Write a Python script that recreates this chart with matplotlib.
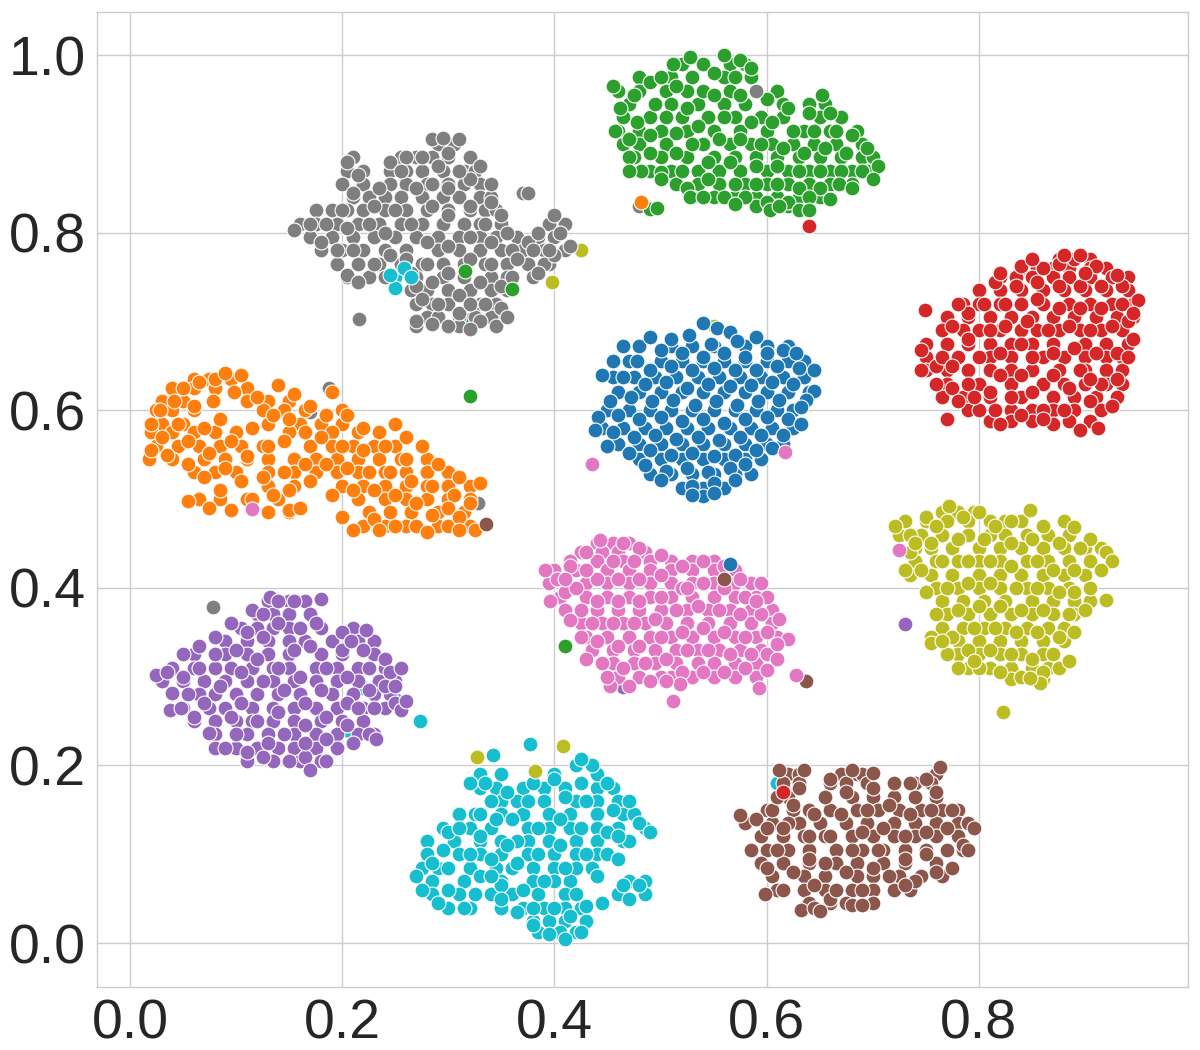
import matplotlib
matplotlib.use("Agg")
import matplotlib.pyplot as plt

blue = [(.54,.698),(.553,.693),(.565,.688),(.49,.683),(.51,.68),(.527,.685),(.548,.675),(.572,.678),(.59,.682),(.465,.672),(.5,.668),(.52,.665),(.54,.66),(.56,.665),(.58,.66),(.6,.665),(.615,.668),(.628,.664),(.455,.655),(.478,.655),(.49,.645),(.51,.65),(.53,.645),(.55,.648),(.57,.645),(.59,.645),(.61,.65),(.63,.648),(.645,.645),(.445,.64),(.465,.638),(.485,.63),(.505,.632),(.525,.625),(.545,.63),(.565,.627),(.585,.628),(.605,.632),(.625,.63),(.645,.622),(.637,.612),(.452,.61),(.472,.615),(.492,.61),(.512,.612),(.532,.606),(.552,.61),(.572,.606),(.592,.61),(.612,.612),(.632,.604),(.441,.592),(.46,.595),(.48,.59),(.5,.592),(.52,.588),(.54,.59),(.56,.586),(.58,.59),(.6,.592),(.62,.59),(.632,.585),(.438,.578),(.455,.575),(.475,.57),(.495,.572),(.515,.568),(.535,.57),(.555,.566),(.575,.57),(.595,.572),(.615,.572),(.45,.56),(.47,.552),(.49,.555),(.51,.55),(.53,.552),(.55,.548),(.57,.55),(.59,.555),(.605,.558),(.485,.538),(.505,.532),(.525,.535),(.545,.53),(.565,.535),(.58,.54),(.5,.522),(.53,.515),(.55,.518),(.57,.522),(.54,.503),(.53,.505),(.55,.507)]
blue_rows = {.672:[.48,.51,.53,.55,.58,.6,.62],.655:[.47,.5,.52,.54,.56,.58,.6,.62,.635],.637:[.455,.475,.495,.515,.535,.555,.575,.595,.615,.635],.62:[.46,.48,.5,.52,.54,.56,.58,.6,.62,.64],.6:[.45,.47,.49,.51,.53,.55,.57,.59,.61,.625],.58:[.445,.465,.485,.505,.525,.545,.565,.585,.605,.625],.562:[.46,.48,.5,.52,.54,.56,.58,.6,.615],.545:[.48,.5,.52,.54,.56,.58,.595],.528:[.49,.51,.53,.55,.57,.585],.512:[.52,.54,.56]}

orange = [(.018,.545),(.02,.555),(.02,.585),(.028,.6),(.042,.61),(.05,.625),(.065,.632),(.08,.635),(.09,.642),(.105,.64),(.098,.62),(.12,.615),(.14,.628),(.155,.618),(.17,.605),(.19,.62),(.185,.595),(.205,.595),(.22,.58),(.25,.585),(.26,.57),(.03,.57),(.045,.585),(.06,.605),(.078,.61),(.035,.55),(.055,.565),(.07,.58),(.085,.59),(.055,.54),(.075,.552),(.095,.565),(.115,.58),(.135,.595),(.15,.59),(.165,.575),(.09,.535),(.11,.548),(.13,.56),(.145,.565),(.18,.57),(.2,.56),(.22,.555),(.24,.56),(.26,.545),(.275,.56),(.29,.54),(.31,.525),(.33,.518),(.07,.525),(.085,.51),(.105,.52),(.125,.525),(.145,.53),(.165,.54),(.185,.54),(.205,.535),(.225,.53),(.245,.53),(.265,.52),(.285,.515),(.305,.505),(.3,.49),(.32,.495),(.055,.498),(.075,.49),(.095,.488),(.115,.5),(.135,.505),(.15,.51),(.17,.52),(.19,.505),(.21,.51),(.15,.488),(.16,.49),(.2,.48),(.23,.51),(.25,.505),(.27,.495),(.285,.482),(.31,.48),(.335,.472),(.21,.465),(.23,.478),(.25,.47),(.235,.465),(.27,.47),(.28,.463),(.325,.465),(.31,.465)]
orange_rows = {.635:[.06,.075,.095],.625:[.04,.06,.08,.11],.61:[.03,.05,.11,.13,.15],.6:[.025,.04,.06,.125,.145,.165,.2],.585:[.03,.05,.13,.16,.18,.2],.575:[.02,.04,.06,.08,.1,.15,.19,.215,.235],.56:[.025,.045,.065,.085,.105,.125,.17,.19,.21,.23,.25],.545:[.04,.07,.09,.11,.13,.155,.175,.195,.215,.235,.255,.28],.53:[.06,.08,.1,.13,.155,.175,.195,.215,.24,.26,.28,.3],.515:[.13,.155,.2,.22,.24,.26,.28,.3,.32],.5:[.065,.085,.11,.14,.215,.24,.26,.28,.3,.32],.485:[.13,.15,.225,.245,.265,.29,.315],.47:[.22,.24,.26,.29,.3,.32]}

green = [(.455,.965),(.475,.955),(.49,.97),(.5,.975),(.512,.99),(.528,.998),(.56,1.0),(.575,.995),(.585,.985),(.57,.975),(.55,.98),(.54,.96),(.515,.965),(.495,.945),(.462,.94),(.478,.925),(.505,.93),(.525,.94),(.55,.955),(.575,.955),(.6,.95),(.62,.94),(.652,.955),(.64,.935),(.66,.935),(.457,.915),(.47,.905),(.49,.91),(.515,.912),(.535,.92),(.56,.93),(.585,.925),(.605,.925),(.625,.915),(.645,.915),(.665,.915),(.68,.91),(.47,.885),(.49,.89),(.515,.89),(.53,.9),(.555,.905),(.575,.905),(.595,.9),(.615,.895),(.635,.89),(.655,.895),(.675,.89),(.695,.895),(.705,.875),(.69,.87),(.482,.87),(.5,.868),(.52,.87),(.545,.88),(.565,.88),(.59,.875),(.61,.875),(.63,.87),(.65,.87),(.67,.87),(.7,.86),(.525,.85),(.545,.86),(.57,.855),(.59,.855),(.61,.855),(.63,.85),(.65,.85),(.668,.855),(.68,.85),(.528,.84),(.54,.84),(.56,.84),(.58,.84),(.6,.835),(.62,.835),(.64,.84),(.66,.838),(.603,.826),(.57,.832),(.63,.826),(.64,.826),(.49,.827),(.497,.828),(.5,.86),(.612,.83),(.47,.87)]
green_rows = {.99:[.52,.54,.565,.58],.975:[.48,.51,.53,.56,.585],.96:[.46,.48,.505,.525,.565,.59,.61],.945:[.47,.51,.535,.56,.58,.615,.64,.655],.93:[.465,.49,.52,.545,.57,.595,.615,.65,.67],.915:[.46,.48,.5,.525,.55,.575,.6,.635,.66,.685],.9:[.465,.48,.505,.54,.565,.585,.605,.625,.645,.665,.69],.885:[.475,.5,.525,.55,.57,.59,.61,.63,.65,.67,.69,.7],.87:[.49,.51,.535,.555,.575,.6,.62,.64,.66,.68,.695],.855:[.515,.535,.555,.58,.6,.62,.64,.66,.68],.84:[.53,.55,.57,.59,.61,.63,.65],.83:[.59,.61,.62]}

red = [(.749,.713),(.745,.668),(.745,.645),(.76,.65),(.765,.66),(.775,.65),(.76,.63),(.775,.625),(.79,.63),(.78,.61),(.8,.6),(.795,.615),(.81,.62),(.775,.695),(.79,.71),(.78,.72),(.79,.68),(.81,.69),(.8,.66),(.82,.665),(.82,.64),(.84,.64),(.815,.6),(.83,.615),(.85,.62),(.84,.595),(.86,.6),(.88,.6),(.87,.585),(.86,.59),(.895,.578),(.912,.58),(.925,.605),(.905,.61),(.885,.625),(.87,.64),(.895,.645),(.915,.63),(.93,.635),(.945,.68),(.93,.665),(.91,.665),(.89,.67),(.87,.665),(.85,.66),(.84,.675),(.825,.695),(.805,.72),(.825,.72),(.845,.7),(.865,.69),(.885,.695),(.905,.69),(.925,.695),(.94,.7),(.95,.724),(.935,.72),(.915,.715),(.895,.715),(.875,.715),(.855,.725),(.835,.74),(.815,.745),(.82,.755),(.84,.762),(.855,.745),(.875,.74),(.895,.74),(.915,.74),(.935,.74),(.93,.752),(.91,.762),(.89,.77),(.875,.765),(.86,.76),(.85,.77),(.9,.755),(.895,.775),(.88,.775),(.945,.71),(.94,.66),(.82,.585),(.905,.635),(.77,.59)]
red_rows = {.77:[.875,.89,.905],.76:[.84,.855,.87,.885,.905,.92],.75:[.82,.835,.85,.87,.885,.905,.925,.94],.735:[.8,.82,.84,.86,.88,.9,.92,.94],.72:[.785,.8,.82,.84,.86,.885,.905,.925,.945],.705:[.77,.79,.81,.83,.85,.87,.89,.91,.93,.945],.69:[.765,.785,.8,.82,.84,.855,.875,.895,.915,.935],.675:[.75,.77,.79,.81,.83,.85,.87,.9,.92,.94],.66:[.75,.78,.81,.83,.86,.88,.9,.92,.935],.645:[.75,.77,.79,.81,.83,.85,.875,.9,.92,.935],.63:[.77,.8,.83,.86,.88,.9,.92,.935],.615:[.765,.785,.81,.84,.87,.89,.91,.93],.6:[.79,.83,.85,.87,.89,.915],.588:[.81,.83,.85,.885,.905]}

purple = [(.025,.302),(.035,.305),(.04,.282),(.05,.3),(.038,.262),(.048,.265),(.055,.28),(.06,.255),(.07,.27),(.065,.31),(.05,.325),(.065,.335),(.08,.325),(.08,.345),(.085,.29),(.075,.237),(.095,.255),(.09,.22),(.1,.235),(.11,.215),(.105,.27),(.105,.305),(.1,.33),(.095,.36),(.11,.35),(.115,.375),(.132,.39),(.14,.385),(.125,.37),(.14,.36),(.125,.345),(.12,.32),(.125,.295),(.12,.25),(.13,.225),(.125,.21),(.15,.205),(.165,.21),(.17,.195),(.185,.205),(.145,.235),(.14,.26),(.145,.285),(.14,.31),(.155,.33),(.16,.355),(.175,.36),(.155,.385),(.18,.388),(.17,.335),(.16,.3),(.165,.27),(.165,.245),(.165,.225),(.185,.23),(.185,.255),(.18,.285),(.185,.31),(.2,.33),(.205,.3),(.205,.27),(.205,.245),(.21,.225),(.215,.265),(.225,.285),(.225,.31),(.2,.35),(.22,.33),(.24,.32),(.245,.305),(.24,.29),(.23,.265),(.25,.27),(.255,.262),(.225,.235),(.222,.352),(.208,.34),(.26,.273),(.25,.29),(.255,.31),(.232,.23)]
purple_rows = {.385:[.13,.15,.165],.37:[.12,.135,.15,.17],.355:[.105,.12,.135,.15,.18,.21],.34:[.09,.11,.13,.15,.165,.19,.215,.23],.325:[.06,.09,.11,.13,.15,.18,.2,.23],.31:[.04,.06,.08,.095,.115,.135,.15,.175,.195,.215,.24],.295:[.03,.05,.07,.09,.11,.135,.155,.175,.195,.215,.235,.25],.28:[.04,.065,.08,.1,.12,.14,.16,.19,.21,.23,.245],.265:[.05,.075,.09,.115,.135,.155,.175,.195,.22,.24],.25:[.06,.08,.1,.115,.135,.155,.18,.2,.22],.235:[.08,.11,.13,.155,.175,.195,.215,.23],.22:[.08,.1,.12,.14,.155,.175,.195],.205:[.11,.135,.16,.18]}

pink = [(.391,.42),(.402,.41),(.415,.425),(.43,.44),(.443,.454),(.465,.45),(.48,.445),(.475,.43),(.5,.437),(.455,.43),(.41,.395),(.396,.385),(.42,.4),(.44,.41),(.46,.41),(.48,.41),(.5,.415),(.52,.425),(.54,.43),(.56,.425),(.575,.41),(.595,.405),(.6,.39),(.58,.39),(.56,.4),(.54,.405),(.52,.4),(.5,.39),(.48,.385),(.46,.385),(.44,.385),(.425,.375),(.415,.364),(.435,.36),(.455,.36),(.475,.36),(.495,.365),(.515,.375),(.535,.38),(.555,.375),(.575,.37),(.595,.37),(.612,.365),(.62,.342),(.6,.35),(.58,.345),(.56,.35),(.54,.355),(.52,.35),(.5,.345),(.48,.335),(.46,.335),(.44,.34),(.425,.345),(.43,.32),(.445,.315),(.465,.31),(.485,.315),(.505,.32),(.525,.33),(.545,.33),(.565,.325),(.585,.325),(.6,.325),(.61,.32),(.6,.307),(.58,.31),(.56,.305),(.54,.305),(.52,.305),(.5,.3),(.518,.292),(.49,.295),(.47,.29),(.452,.29),(.45,.3),(.505,.295),(.61,.337),(.525,.4),(.59,.385),(.43,.42),(.41,.41)]
pink_rows = {.45:[.44,.455,.47],.44:[.425,.445,.46,.485],.43:[.415,.44,.465,.49,.51,.53,.55],.42:[.4,.42,.45,.47,.49,.51,.53,.55,.57],.405:[.395,.43,.45,.47,.49,.51,.53,.55,.57,.585],.39:[.405,.43,.45,.47,.49,.51,.53,.55,.57,.59],.375:[.41,.44,.46,.48,.5,.525,.545,.565,.585,.605],.36:[.425,.445,.465,.485,.505,.525,.545,.565,.585,.605],.345:[.43,.45,.47,.49,.51,.53,.55,.57,.59,.61],.33:[.435,.455,.475,.495,.515,.535,.555,.575,.595],.315:[.455,.475,.495,.515,.535,.55,.57,.59],.3:[.46,.48,.51,.53,.55,.57,.59]}

olive = [(.721,.47),(.735,.46),(.75,.48),(.76,.47),(.772,.492),(.785,.48),(.8,.485),(.815,.47),(.83,.475),(.848,.488),(.86,.47),(.88,.475),(.89,.468),(.905,.455),(.895,.445),(.92,.44),(.925,.43),(.915,.42),(.905,.4),(.92,.386),(.89,.395),(.87,.42),(.875,.45),(.85,.455),(.83,.45),(.805,.455),(.78,.455),(.755,.45),(.735,.44),(.73,.42),(.745,.42),(.765,.43),(.79,.43),(.81,.43),(.83,.425),(.855,.43),(.89,.42),(.75,.395),(.77,.4),(.79,.405),(.81,.405),(.835,.4),(.855,.4),(.875,.395),(.9,.375),(.885,.37),(.86,.375),(.84,.375),(.82,.38),(.8,.38),(.78,.375),(.76,.37),(.755,.345),(.775,.345),(.795,.355),(.815,.355),(.835,.35),(.855,.35),(.875,.345),(.89,.35),(.87,.325),(.85,.32),(.83,.325),(.81,.33),(.79,.33),(.77,.325),(.78,.31),(.8,.31),(.82,.305),(.84,.3),(.86,.305),(.858,.293),(.848,.298),(.875,.31),(.885,.318),(.755,.338),(.765,.34),(.795,.318),(.74,.45)]
olive_rows = {.485:[.765,.78,.795],.475:[.73,.75,.77,.79,.81,.825,.84],.46:[.725,.745,.765,.79,.81,.825,.845,.865,.885],.445:[.74,.755,.775,.8,.82,.84,.86,.88,.9,.915],.43:[.74,.76,.78,.8,.82,.845,.865,.885,.905],.415:[.735,.755,.775,.8,.82,.84,.86,.88,.9],.4:[.76,.78,.8,.82,.845,.865,.885,.905],.385:[.765,.785,.805,.825,.85,.87,.89,.905],.37:[.77,.79,.81,.83,.85,.87,.89],.355:[.765,.785,.805,.825,.845,.865,.88],.34:[.76,.78,.8,.82,.84,.86,.88],.325:[.78,.8,.82,.84,.86],.31:[.79,.81,.83,.85,.865],.297:[.83,.85,.86]}

cyan = [(.27,.075),(.275,.06),(.285,.09),(.295,.105),(.3,.085),(.3,.06),(.315,.04),(.325,.055),(.33,.075),(.32,.1),(.3,.125),(.31,.13),(.33,.12),(.34,.095),(.35,.065),(.35,.05),(.345,.14),(.34,.16),(.32,.18),(.335,.18),(.355,.17),(.36,.14),(.365,.115),(.365,.09),(.37,.06),(.38,.04),(.38,.02),(.395,.01),(.41,.005),(.425,.012),(.415,.03),(.4,.04),(.39,.07),(.385,.1),(.385,.13),(.375,.16),(.38,.18),(.4,.185),(.41,.165),(.405,.14),(.405,.11),(.41,.085),(.42,.055),(.445,.045),(.47,.05),(.465,.065),(.485,.055),(.48,.065),(.44,.075),(.43,.1),(.425,.13),(.43,.16),(.425,.18),(.44,.19),(.435,.2),(.45,.18),(.455,.15),(.45,.125),(.46,.095),(.47,.115),(.475,.145),(.47,.16),(.48,.135),(.49,.125),(.46,.12),(.34,.075),(.42,.2),(.425,.207),(.43,.042),(.355,.11),(.29,.045),(.33,.145),(.365,.035)]
cyan_rows = {.19:[.33,.35,.4],.175:[.33,.345,.37,.39,.41,.44,.455],.16:[.35,.365,.39,.42,.44,.46],.145:[.31,.325,.35,.37,.395,.415,.44,.465],.13:[.295,.32,.34,.375,.395,.415,.44,.46,.485],.115:[.28,.305,.33,.35,.375,.395,.42,.44,.465],.1:[.28,.31,.33,.35,.375,.4,.42,.44,.45],.085:[.275,.29,.32,.345,.36,.38,.4,.42,.435],.07:[.285,.315,.35,.38,.4,.415,.47,.485],.055:[.285,.31,.34,.36,.385,.41,.46],.04:[.3,.32,.35,.37,.39,.41,.425],.025:[.38,.395,.41,.43],.012:[.385,.405,.42]}

brown = [(.575,.144),(.59,.14),(.595,.12),(.585,.105),(.6,.13),(.605,.15),(.61,.165),(.615,.18),(.612,.195),(.635,.195),(.63,.175),(.625,.155),(.62,.135),(.61,.105),(.6,.085),(.598,.055),(.615,.06),(.625,.08),(.64,.095),(.64,.12),(.645,.145),(.655,.165),(.66,.185),(.68,.195),(.675,.17),(.67,.145),(.66,.12),(.655,.09),(.645,.065),(.632,.037),(.645,.04),(.66,.05),(.68,.043),(.69,.06),(.675,.08),(.68,.105),(.69,.125),(.695,.15),(.7,.175),(.72,.18),(.715,.155),(.71,.13),(.705,.105),(.7,.085),(.715,.075),(.73,.095),(.73,.12),(.735,.145),(.74,.165),(.75,.185),(.763,.198),(.76,.17),(.755,.15),(.75,.125),(.75,.1),(.74,.07),(.76,.08),(.775,.085),(.77,.105),(.77,.13),(.775,.15),(.79,.135),(.795,.13),(.785,.11),(.79,.105),(.69,.043),(.65,.036),(.735,.18),(.7,.192),(.615,.13),(.665,.06),(.73,.065)]
brown_rows = {.19:[.62,.63,.67,.685,.69,.76],.18:[.63,.66,.675,.695,.72,.74,.755],.165:[.62,.655,.68,.7,.72,.74,.76],.15:[.6,.625,.64,.66,.685,.705,.725,.745,.765,.78],.135:[.58,.605,.63,.65,.675,.695,.72,.74,.76,.78,.79],.12:[.595,.615,.635,.655,.68,.7,.72,.74,.76,.78],.105:[.6,.62,.64,.665,.69,.71,.73,.75,.77,.785],.09:[.595,.615,.64,.665,.685,.71,.73,.76],.075:[.605,.635,.655,.685,.7,.725,.745,.765],.06:[.61,.635,.655,.68,.7,.72,.735],.045:[.64,.66,.675,.7]}

gray = [(.155,.803),(.17,.81),(.18,.79),(.195,.78),(.185,.81),(.2,.825),(.205,.805),(.225,.81),(.24,.8),(.21,.78),(.205,.752),(.215,.745),(.23,.765),(.245,.775),(.26,.77),(.28,.79),(.265,.81),(.25,.825),(.23,.83),(.21,.845),(.205,.88),(.215,.865),(.235,.85),(.245,.88),(.255,.87),(.27,.85),(.26,.885),(.275,.885),(.29,.875),(.285,.855),(.3,.85),(.32,.86),(.33,.875),(.34,.855),(.34,.835),(.32,.83),(.3,.82),(.285,.83),(.285,.905),(.295,.907),(.3,.89),(.31,.905),(.31,.87),(.335,.81),(.34,.79),(.32,.795),(.3,.785),(.28,.765),(.265,.755),(.27,.74),(.285,.745),(.3,.755),(.32,.77),(.34,.765),(.35,.74),(.33,.745),(.31,.73),(.29,.72),(.275,.725),(.27,.7),(.285,.697),(.3,.695),(.31,.71),(.32,.72),(.335,.72),(.35,.715),(.33,.7),(.32,.692),(.345,.695),(.355,.8),(.35,.82),(.36,.78),(.365,.77),(.375,.79),(.38,.78),(.385,.8),(.4,.82),(.405,.8),(.39,.765),(.4,.775),(.415,.785),(.37,.845),(.375,.845),(.385,.755),(.395,.78),(.36,.75),(.355,.705)]
gray_rows = {.9:[.29,.305],.885:[.21,.255,.27,.285,.3,.32],.87:[.205,.22,.245,.26,.275,.295,.315,.325],.855:[.2,.22,.245,.26,.28,.3,.315,.33],.84:[.21,.225,.24,.255,.275,.295,.31,.33,.34],.825:[.175,.19,.205,.22,.24,.26,.28,.3,.32,.335,.345],.81:[.16,.175,.195,.215,.235,.255,.275,.295,.315,.33,.35,.395,.41],.795:[.17,.19,.21,.23,.25,.27,.29,.31,.33,.345,.365,.385,.4],.78:[.18,.2,.22,.24,.26,.29,.31,.33,.35,.37,.39,.41],.765:[.195,.215,.235,.255,.275,.295,.315,.335,.355,.375,.395],.75:[.205,.225,.24,.27,.295,.315,.34,.355,.38],.735:[.265,.28,.3,.32,.34,.355],.72:[.27,.285,.3,.33,.345],.705:[.28,.29,.31,.325,.34],.695:[.27,.31]}

# isolated points that sit mostly hidden under a cluster
hidden_gray = [(.078,.378),(.17,.598),(.188,.625),(.328,.495),(.48,.83)]
hidden_olive = [(.55,.695),(.425,.78)]
hidden_cyan = [(.61,.18),(.25,.275),(.22,.287),(.205,.24)]
hidden_purple = [(.465,.288)]
hidden_orange = [(.35,.71)]
hidden_green = [(.321,.703)]
# isolated points drawn over the clusters
out_blue = [(.565,.427)]
out_orange = [(.482,.834)]
out_green = [(.32,.616),(.316,.757),(.36,.736),(.41,.335)]
out_red = [(.64,.807),(.615,.17)]
out_purple = [(.73,.359)]
out_brown = [(.637,.295),(.336,.472),(.56,.41)]
out_pink = [(.435,.54),(.115,.489),(.617,.553),(.725,.443),(.512,.273),(.593,.287),(.628,.302)]
out_gray = [(.216,.703),(.59,.96)]
out_olive = [(.398,.745),(.823,.26),(.327,.209),(.382,.194),(.408,.222)]
out_cyan = [(.273,.25),(.342,.212),(.377,.224),(.25,.75),(.258,.76),(.265,.75),(.25,.738),(.245,.752)]

colors = {"blue": "#1f77b4", "orange": "#ff7f0e", "green": "#2ca02c", "red": "#d62728",
          "purple": "#9467bd", "brown": "#8c564b", "pink": "#e377c2", "gray": "#7f7f7f",
          "olive": "#bcbd22", "cyan": "#17becf"}
rows = [("blue", blue_rows), ("orange", orange_rows), ("green", green_rows), ("red", red_rows),
        ("purple", purple_rows), ("brown", brown_rows), ("pink", pink_rows), ("gray", gray_rows),
        ("olive", olive_rows), ("cyan", cyan_rows)]
hidden = [("gray", hidden_gray), ("olive", hidden_olive), ("cyan", hidden_cyan),
          ("purple", hidden_purple), ("orange", hidden_orange), ("green", hidden_green)]
clusters = [("blue", blue), ("orange", orange), ("green", green), ("red", red), ("purple", purple),
            ("brown", brown), ("pink", pink), ("gray", gray), ("olive", olive), ("cyan", cyan)]
outliers = [("gray", out_gray), ("blue", out_blue), ("orange", out_orange), ("green", out_green),
            ("red", out_red), ("purple", out_purple), ("brown", out_brown), ("pink", out_pink),
            ("olive", out_olive), ("cyan", out_cyan)]

plt.rcParams["font.family"] = ["Liberation Sans", "DejaVu Sans"]
fig = plt.figure(figsize=(12, 10.5), dpi=100)
ax = fig.add_axes([97/1200, 1-987/1050, (1188-97)/1200, (987-12)/1050])
ax.set_axisbelow(True)
ax.grid(True, color="#cccccc", lw=1)

def draw(name, pts):
    ax.scatter([p[0] for p in pts], [p[1] for p in pts], s=115, c=colors[name],
               edgecolors="white", linewidths=0.8)

for name, pts in hidden:
    draw(name, pts)
for name, table in rows:
    draw(name, [(x, y) for y, xs in table.items() for x in xs])
for name, pts in clusters + outliers:
    draw(name, pts)

ax.set_xlim(-0.031, 0.997)
ax.set_ylim(-0.0495, 1.0485)
ax.set_xticks([0, .2, .4, .6, .8])
ax.set_yticks([0, .2, .4, .6, .8, 1.0])
ax.tick_params(labelsize=40, length=0, colors="#262626", pad=8)
for s in ax.spines.values():
    s.set_color("#cccccc")
    s.set_linewidth(1)
fig.savefig("out.png", dpi=100)
